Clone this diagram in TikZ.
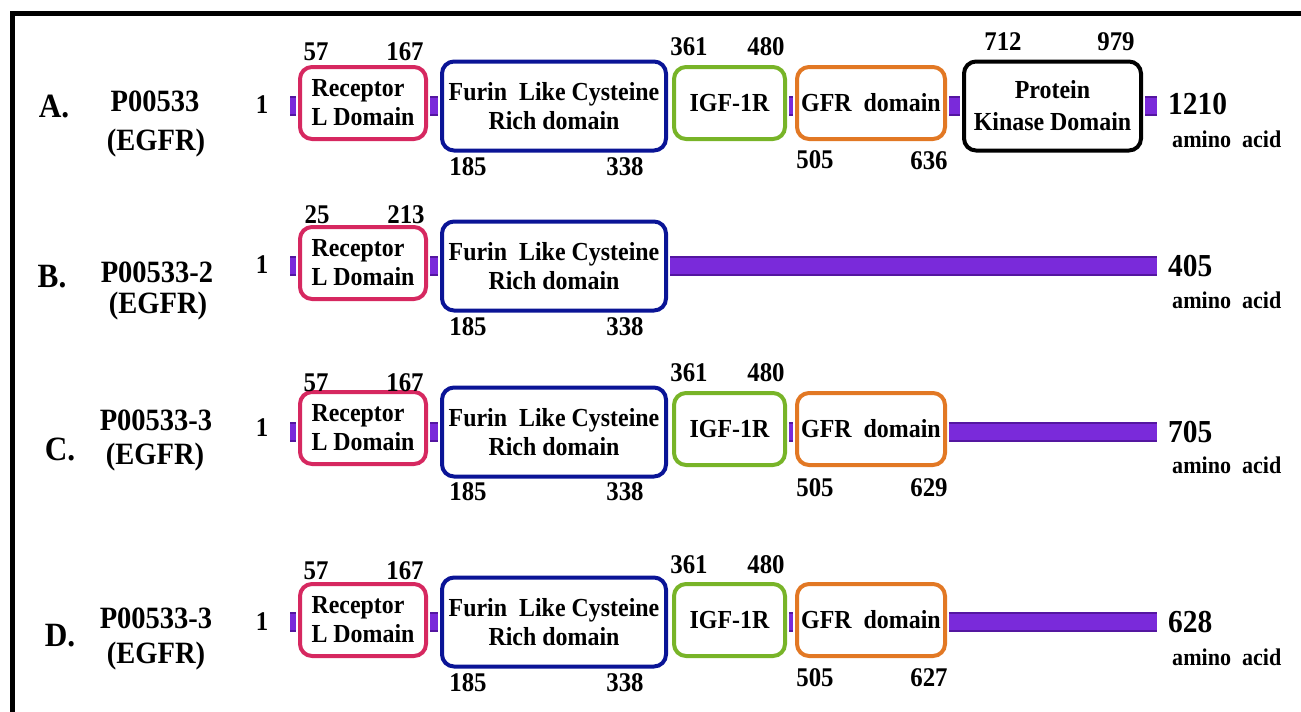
\documentclass[tikz,border=0pt]{standalone}
\usepackage{fontspec}
\setmainfont{Liberation Serif}[FakeStretch=0.92]
\usetikzlibrary{positioning}

\definecolor{recred}{RGB}{214,40,96}
\definecolor{furblue}{RGB}{10,20,150}
\definecolor{igfgreen}{RGB}{120,180,40}
\definecolor{gfrorange}{RGB}{226,120,36}
\definecolor{barfill}{RGB}{122,42,218}
\definecolor{barline}{RGB}{84,22,160}

\begin{document}
\begin{tikzpicture}[x=1pt, y=-1pt,
	dombox/.style={draw, rounded corners=12pt, line width=4pt, fill=white, align=center, inner sep=0pt, font=\bfseries\fontsize{26}{29}\selectfont},
	smallbox/.style={dombox, minimum height=72pt},
	bigbox/.style={dombox, minimum height=89pt},
	recbox/.style={draw=recred, minimum width=126pt, align=left},
	furbox/.style={draw=furblue, minimum width=224pt},
	igfbox/.style={draw=igfgreen, minimum width=111pt},
	gfrbox/.style={draw=gfrorange, minimum width=148pt},
	pkdbox/.style={draw=black, minimum width=177pt, font=\bfseries\fontsize{26}{32}\selectfont},
	bar/.style={draw=barline, line width=20pt, shorten <=2pt, shorten >=2pt, postaction={draw=barfill, line width=16pt}},
	rowlet/.style={inner sep=0pt, font=\bfseries\fontsize{34}{38}\selectfont},
	rowname/.style={inner sep=0pt, font=\bfseries\fontsize{31}{34}\selectfont},
	firstnum/.style={inner sep=0pt, font=\bfseries\fontsize{27}{30}\selectfont},
	posnum/.style={inner sep=0pt, font=\bfseries\fontsize{27}{30}\selectfont},
	endnum/.style={inner sep=0pt, anchor=west, font=\bfseries\fontsize{32}{36}\selectfont},
	aminotxt/.style={inner sep=0pt, anchor=west, font=\bfseries\fontsize{24}{28}\selectfont}]
	% --- wysokosci wierszy ---
	\def\yA{106}
	\def\yB{266}
	\def\yC{432}
	\def\yD{622}
	
	\useasboundingbox (0,0) rectangle (1301,712);
	\clip (0,0) rectangle (1301,712);
	% Ramka
	\draw[line width=5pt] (12.5,13) rectangle (1340,740);
	
	% --- A. P00533 ---
	\coordinate (axisA) at (0,\yA);
	\coordinate (startA) at (288,\yA);
	\coordinate (endA) at (1159,\yA);
	\node[rowlet] (letA) at (54,107) {A.};
	\node[rowname] (nameA) at (155,101) {P00533};
	\node[rowname] (isoA) at (156,143) {(EGFR)};
	\node[firstnum] (oneA) at (262,105) {1};
	\node[smallbox, recbox] (recA) at (363,\yA-3) {Receptor\\L Domain};
	\node[bigbox, furbox] (furA) at (554,\yA) {Furin~ Like Cysteine\\Rich domain};
	\node[smallbox, igfbox] (igfA) at (729.5,\yA-3) {IGF-1R};
	\node[smallbox, gfrbox] (gfrA) at (871,\yA-3) {GFR~ domain};
	\node[bigbox, pkdbox] (pkdA) at (1052.5,\yA) {Protein\\Kinase Domain};
	\draw[bar] (startA) -- (recA.west |- axisA);
	\draw[bar] (recA.east |- axisA) -- (furA.west |- axisA);
	\draw[bar] (furA.east |- axisA) -- (igfA.west |- axisA);
	\draw[bar] (igfA.east |- axisA) -- (gfrA.west |- axisA);
	\draw[bar] (gfrA.east |- axisA) -- (pkdA.west |- axisA);
	\draw[bar] (pkdA.east |- axisA) -- (endA);
	\node[posnum] at (316,52) {57};
	\node[posnum] at (405,52) {167};
	\node[posnum] at (468,167) {185};
	\node[posnum] at (625,167) {338};
	\node[posnum] at (689,47) {361};
	\node[posnum] at (766,47) {480};
	\node[posnum] at (815,160) {505};
	\node[posnum] at (929,161) {636};
	\node[posnum] at (1003,42) {712};
	\node[posnum] at (1116,42) {979};
	\node[endnum] (lenA) at (1168,104) {1210};
	\node[aminotxt] at (1172,139) {amino~ acid};
	
	% --- B. P00533-2 ---
	\coordinate (axisB) at (0,\yB);
	\coordinate (startB) at (288,\yB);
	\coordinate (endB) at (1159,\yB);
	\node[rowlet] (letB) at (52,277) {B.};
	\node[rowname] (nameB) at (157,272) {P00533-2};
	\node[rowname] (isoB) at (158,306) {(EGFR)};
	\node[firstnum] (oneB) at (262,265) {1};
	\node[smallbox, recbox] (recB) at (363,\yB-3) {Receptor\\L Domain};
	\node[bigbox, furbox] (furB) at (554,\yB) {Furin~ Like Cysteine\\Rich domain};
	\draw[bar] (startB) -- (recB.west |- axisB);
	\draw[bar] (recB.east |- axisB) -- (furB.west |- axisB);
	\draw[bar] (furB.east |- axisB) -- (endB);
	\node[posnum] at (317,215) {25};
	\node[posnum] at (406,215) {213};
	\node[posnum] at (468,327) {185};
	\node[posnum] at (625,327) {338};
	\node[endnum] (lenB) at (1168,266) {405};
	\node[aminotxt] at (1172,300) {amino~ acid};
	
	% --- C. P00533-3 ---
	\coordinate (axisC) at (0,\yC);
	\coordinate (startC) at (288,\yC);
	\coordinate (endC) at (1159,\yC);
	\node[rowlet] (letC) at (60,449) {C.};
	\node[rowname] (nameC) at (156,420) {P00533-3};
	\node[rowname] (isoC) at (155,457) {(EGFR)};
	\node[firstnum] (oneC) at (262,428) {1};
	\node[smallbox, recbox] (recC) at (363,\yC-4) {Receptor\\L Domain};
	\node[bigbox, furbox] (furC) at (554,\yC) {Furin~ Like Cysteine\\Rich domain};
	\node[smallbox, igfbox] (igfC) at (729.5,\yC-3) {IGF-1R};
	\node[smallbox, gfrbox] (gfrC) at (871,\yC-3) {GFR~ domain};
	\draw[bar] (startC) -- (recC.west |- axisC);
	\draw[bar] (recC.east |- axisC) -- (furC.west |- axisC);
	\draw[bar] (furC.east |- axisC) -- (igfC.west |- axisC);
	\draw[bar] (igfC.east |- axisC) -- (gfrC.west |- axisC);
	\draw[bar] (gfrC.east |- axisC) -- (endC);
	\node[posnum] at (316,383) {57};
	\node[posnum] at (405,383) {167};
	\node[posnum] at (468,492) {185};
	\node[posnum] at (625,492) {338};
	\node[posnum] at (689,373) {361};
	\node[posnum] at (766,373) {480};
	\node[posnum] at (815,488) {505};
	\node[posnum] at (929,488) {629};
	\node[endnum] (lenC) at (1168,432) {705};
	\node[aminotxt] at (1172,465) {amino~ acid};
	
	% --- D. P00533-3 ---
	\coordinate (axisD) at (0,\yD);
	\coordinate (startD) at (288,\yD);
	\coordinate (endD) at (1159,\yD);
	\node[rowlet] (letD) at (60,636) {D.};
	\node[rowname] (nameD) at (156,618) {P00533-3};
	\node[rowname] (isoD) at (156,656) {(EGFR)};
	\node[firstnum] (oneD) at (262,622) {1};
	\node[smallbox, recbox] (recD) at (363,\yD-2) {Receptor\\L Domain};
	\node[bigbox, furbox] (furD) at (554,\yD) {Furin~ Like Cysteine\\Rich domain};
	\node[smallbox, igfbox] (igfD) at (729.5,\yD-2) {IGF-1R};
	\node[smallbox, gfrbox] (gfrD) at (871,\yD-2) {GFR~ domain};
	\draw[bar] (startD) -- (recD.west |- axisD);
	\draw[bar] (recD.east |- axisD) -- (furD.west |- axisD);
	\draw[bar] (furD.east |- axisD) -- (igfD.west |- axisD);
	\draw[bar] (igfD.east |- axisD) -- (gfrD.west |- axisD);
	\draw[bar] (gfrD.east |- axisD) -- (endD);
	\node[posnum] at (316,571) {57};
	\node[posnum] at (405,571) {167};
	\node[posnum] at (468,683) {185};
	\node[posnum] at (625,683) {338};
	\node[posnum] at (689,565) {361};
	\node[posnum] at (766,565) {480};
	\node[posnum] at (815,678) {505};
	\node[posnum] at (929,678) {627};
	\node[endnum] (lenD) at (1168,622) {628};
	\node[aminotxt] at (1172,657) {amino~ acid};
\end{tikzpicture}
\end{document}
